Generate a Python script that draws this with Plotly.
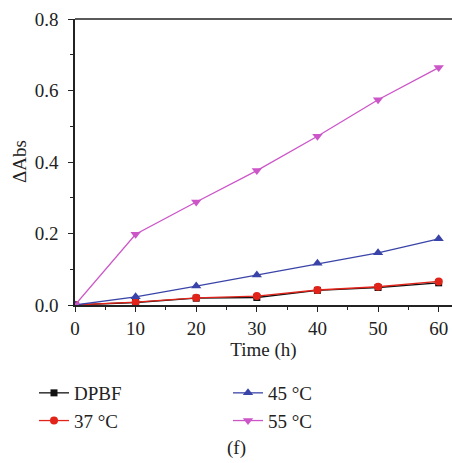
import plotly.graph_objects as go

time_h = [0, 10, 20, 30, 40, 50, 60]
dpbf = [0, 0.007, 0.019, 0.021, 0.041, 0.049, 0.062]
c37 = [0, 0.008, 0.020, 0.025, 0.042, 0.051, 0.066]
c45 = [0, 0.023, 0.053, 0.084, 0.117, 0.146, 0.185]
c55 = [0, 0.198, 0.288, 0.376, 0.472, 0.574, 0.664]

FONT = "Liberation Serif"
FS = 19
W, H = 452, 463

fig = go.Figure()
fig.add_trace(go.Scatter(x=time_h, y=dpbf, name="DPBF", mode="lines+markers",
                         line=dict(color="#111111", width=1.3),
                         marker=dict(symbol="square", size=7, color="#111111"),
                         legend="legend"))
fig.add_trace(go.Scatter(x=time_h, y=c37, name="37 °C", mode="lines+markers",
                         line=dict(color="#e2231a", width=1.3),
                         marker=dict(symbol="circle", size=8, color="#e2231a"),
                         legend="legend"))
fig.add_trace(go.Scatter(x=time_h, y=c45, name="45 °C", mode="lines+markers",
                         line=dict(color="#3a44a8", width=1.3),
                         marker=dict(symbol="triangle-up", size=9, color="#3a44a8"),
                         legend="legend2"))
fig.add_trace(go.Scatter(x=time_h, y=c55, name="55 °C", mode="lines+markers",
                         line=dict(color="#cc55c8", width=1.3),
                         marker=dict(symbol="triangle-down", size=9, color="#cc55c8"),
                         legend="legend2"))

L, T, PW, PH = 75, 19, 377, 286  # plot area in page pixels
fig.update_layout(
    width=W, height=H,
    margin=dict(l=L, r=W - L - PW, t=T, b=H - T - PH, autoexpand=False),
    plot_bgcolor="white", paper_bgcolor="white",
    font=dict(family=FONT, size=FS, color="#222222"),
    showlegend=True,
    legend=dict(x=34 / W, y=(H - 374) / H, xref="container", yref="container",
                xanchor="left", yanchor="top",
                bgcolor="rgba(0,0,0,0)", font=dict(size=FS), tracegroupgap=0,
                itemwidth=30),
    legend2=dict(x=228 / W, y=(H - 374) / H, xref="container", yref="container",
                 xanchor="left", yanchor="top",
                 bgcolor="rgba(0,0,0,0)", font=dict(size=FS), tracegroupgap=0,
                 itemwidth=30),
    xaxis=dict(range=[0, 62.2], tickvals=[0, 10, 20, 30, 40, 50, 60],
               ticks="outside", ticklen=5, tickwidth=1, tickcolor="#222",
               minor=dict(tickvals=[5, 15, 25, 35, 45, 55], ticks="outside", ticklen=3, tickcolor="#222"),
               showline=True, linecolor="#222", linewidth=1.5, mirror=False,
               showgrid=False, zeroline=False,
               title=dict(text="Time (h)", standoff=4, font=dict(size=FS))),
    yaxis=dict(range=[0, 0.8], tickvals=[0, 0.2, 0.4, 0.6, 0.8], tickformat=".1f",
               ticks="outside", ticklen=5, tickwidth=1, tickcolor="#222",
               minor=dict(tickvals=[0.1, 0.3, 0.5, 0.7], ticks="outside", ticklen=3, tickcolor="#222"),
               showline=True, linecolor="#222", linewidth=1.5,
               showgrid=False, zeroline=False,
               ticklabelstandoff=6),
    shapes=[dict(type="line", xref="paper", yref="paper", x0=0, x1=1, y0=1, y1=1,
                 line=dict(color="#222", width=1.5))],
    annotations=[
        dict(text="ΔAbs", xref="paper", yref="paper", x=(19 - L) / PW, y=0.5,
             textangle=-90, xanchor="center", yanchor="middle", showarrow=False,
             font=dict(size=FS)),
        dict(text="(f)", xref="paper", yref="paper", x=(236 - L) / PW,
             y=(T + PH - 448) / PH,
             xanchor="center", yanchor="middle", showarrow=False,
             font=dict(size=FS)),
    ],
)

fig.write_html("out.html", config={"displayModeBar": False},
               post_script="document.body.style.margin='0';document.body.style.overflow='hidden';")
